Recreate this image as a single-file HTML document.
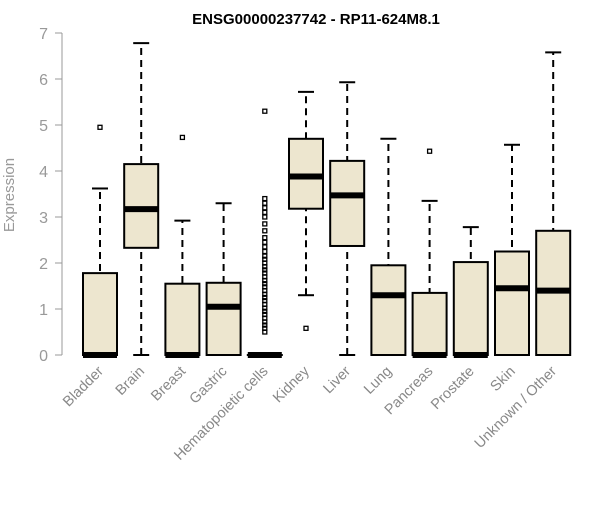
<!DOCTYPE html>
<html><head><meta charset="utf-8"><style>
body{margin:0;background:#fff}
svg text{font-family:"Liberation Sans",Arial,sans-serif}
</style></head><body>
<svg id="chart" width="600" height="500" xmlns="http://www.w3.org/2000/svg">
<text x="316" y="24" text-anchor="middle" font-weight="bold" font-size="15">ENSG00000237742 - RP11-624M8.1</text>
<text transform="translate(14,195) rotate(-90)" text-anchor="middle" font-size="15" fill="#999">Expression</text>
<g id="yaxis"></g>
<g id="boxes"></g>
<g id="xlabels"></g>
</svg>
<script>
const categories=["Bladder","Brain","Breast","Gastric","Hematopoietic cells","Kidney","Liver","Lung","Pancreas","Prostate","Skin","Unknown / Other"];
const whiskerLow=[0,0,0,0,0,1.3,0,0,0,0,0,0];
const q1=[0,2.33,0,0,0,3.18,2.37,0,0,0,0,0];
const medians=[0,3.17,0,1.05,0,3.88,3.47,1.3,0,0,1.45,1.4];
const q3=[1.78,4.15,1.55,1.57,0,4.7,4.22,1.95,1.35,2.02,2.25,2.7];
const whiskerHigh=[3.62,6.78,2.92,3.3,0,5.72,5.93,4.7,3.35,2.78,4.57,6.58];
const outliers=[[4.95],[],[4.73],[],[0.5,0.58,0.65,0.72,0.8,0.88,0.95,1.02,1.1,1.18,1.25,1.32,1.4,1.48,1.55,1.62,1.7,1.78,1.85,1.92,2.0,2.08,2.15,2.25,2.35,2.45,2.55,2.7,2.85,3.0,3.1,3.2,3.3,3.4,5.3],[0.58],[],[],[4.43],[],[],[]];
const yTicks=[0,1,2,3,4,5,6,7];
const NS="http://www.w3.org/2000/svg";
const y=v=>355-v*46;
const x=i=>100+i*41.2;
function mk(t,a,p){const e=document.createElementNS(NS,t);for(const k in a)e.setAttribute(k,a[k]);p.appendChild(e);return e;}
const ya=document.getElementById('yaxis');
const yl=mk('line',{x1:62,x2:62,y1:y(0),y2:y(7),stroke:'#999'},ya);
yTicks.forEach(t=>{
 const tk=mk('line',{x1:55,x2:62,y1:y(t),y2:y(t),stroke:'#999'},ya);
 
 
 const tx=mk('text',{x:48,y:y(t)+6,'text-anchor':'end','font-size':16,fill:'#999'},ya);
 tx.textContent=t;
 
 
});
const bg=document.getElementById('boxes');
const xl=document.getElementById('xlabels');
categories.forEach((c,i)=>{
 const cx=x(i),w=17;
 const g=mk('g',{},bg);
 
 
 mk('line',{x1:cx,x2:cx,y1:y(whiskerLow[i]),y2:y(whiskerHigh[i]),stroke:'#000','stroke-width':2,'stroke-dasharray':'7,5'},g);
 mk('line',{x1:cx-8,x2:cx+8,y1:y(whiskerHigh[i]),y2:y(whiskerHigh[i]),stroke:'#000','stroke-width':2},g);
 mk('line',{x1:cx-8,x2:cx+8,y1:y(whiskerLow[i]),y2:y(whiskerLow[i]),stroke:'#000','stroke-width':2},g);
 mk('rect',{x:cx-w,y:y(q3[i]),width:2*w,height:Math.max(y(q1[i])-y(q3[i]),0.01),fill:'#ede6cf',stroke:'#000','stroke-width':2},g);
 mk('line',{x1:cx-w,x2:cx+w,y1:y(medians[i]),y2:y(medians[i]),stroke:'#000','stroke-width':6},g);
 outliers[i].forEach(o=>{
  const p=mk('rect',{x:cx-2,y:y(o)-2,width:4,height:4,fill:'none',stroke:'#000','stroke-width':1.3},g);
  
  
 });
 const t=mk('text',{transform:`translate(${cx+4},${372}) rotate(-45)`,'text-anchor':'end','font-size':14.5,fill:'#888'},xl);
 t.textContent=c;
 
 
});
</script>
</body></html>
